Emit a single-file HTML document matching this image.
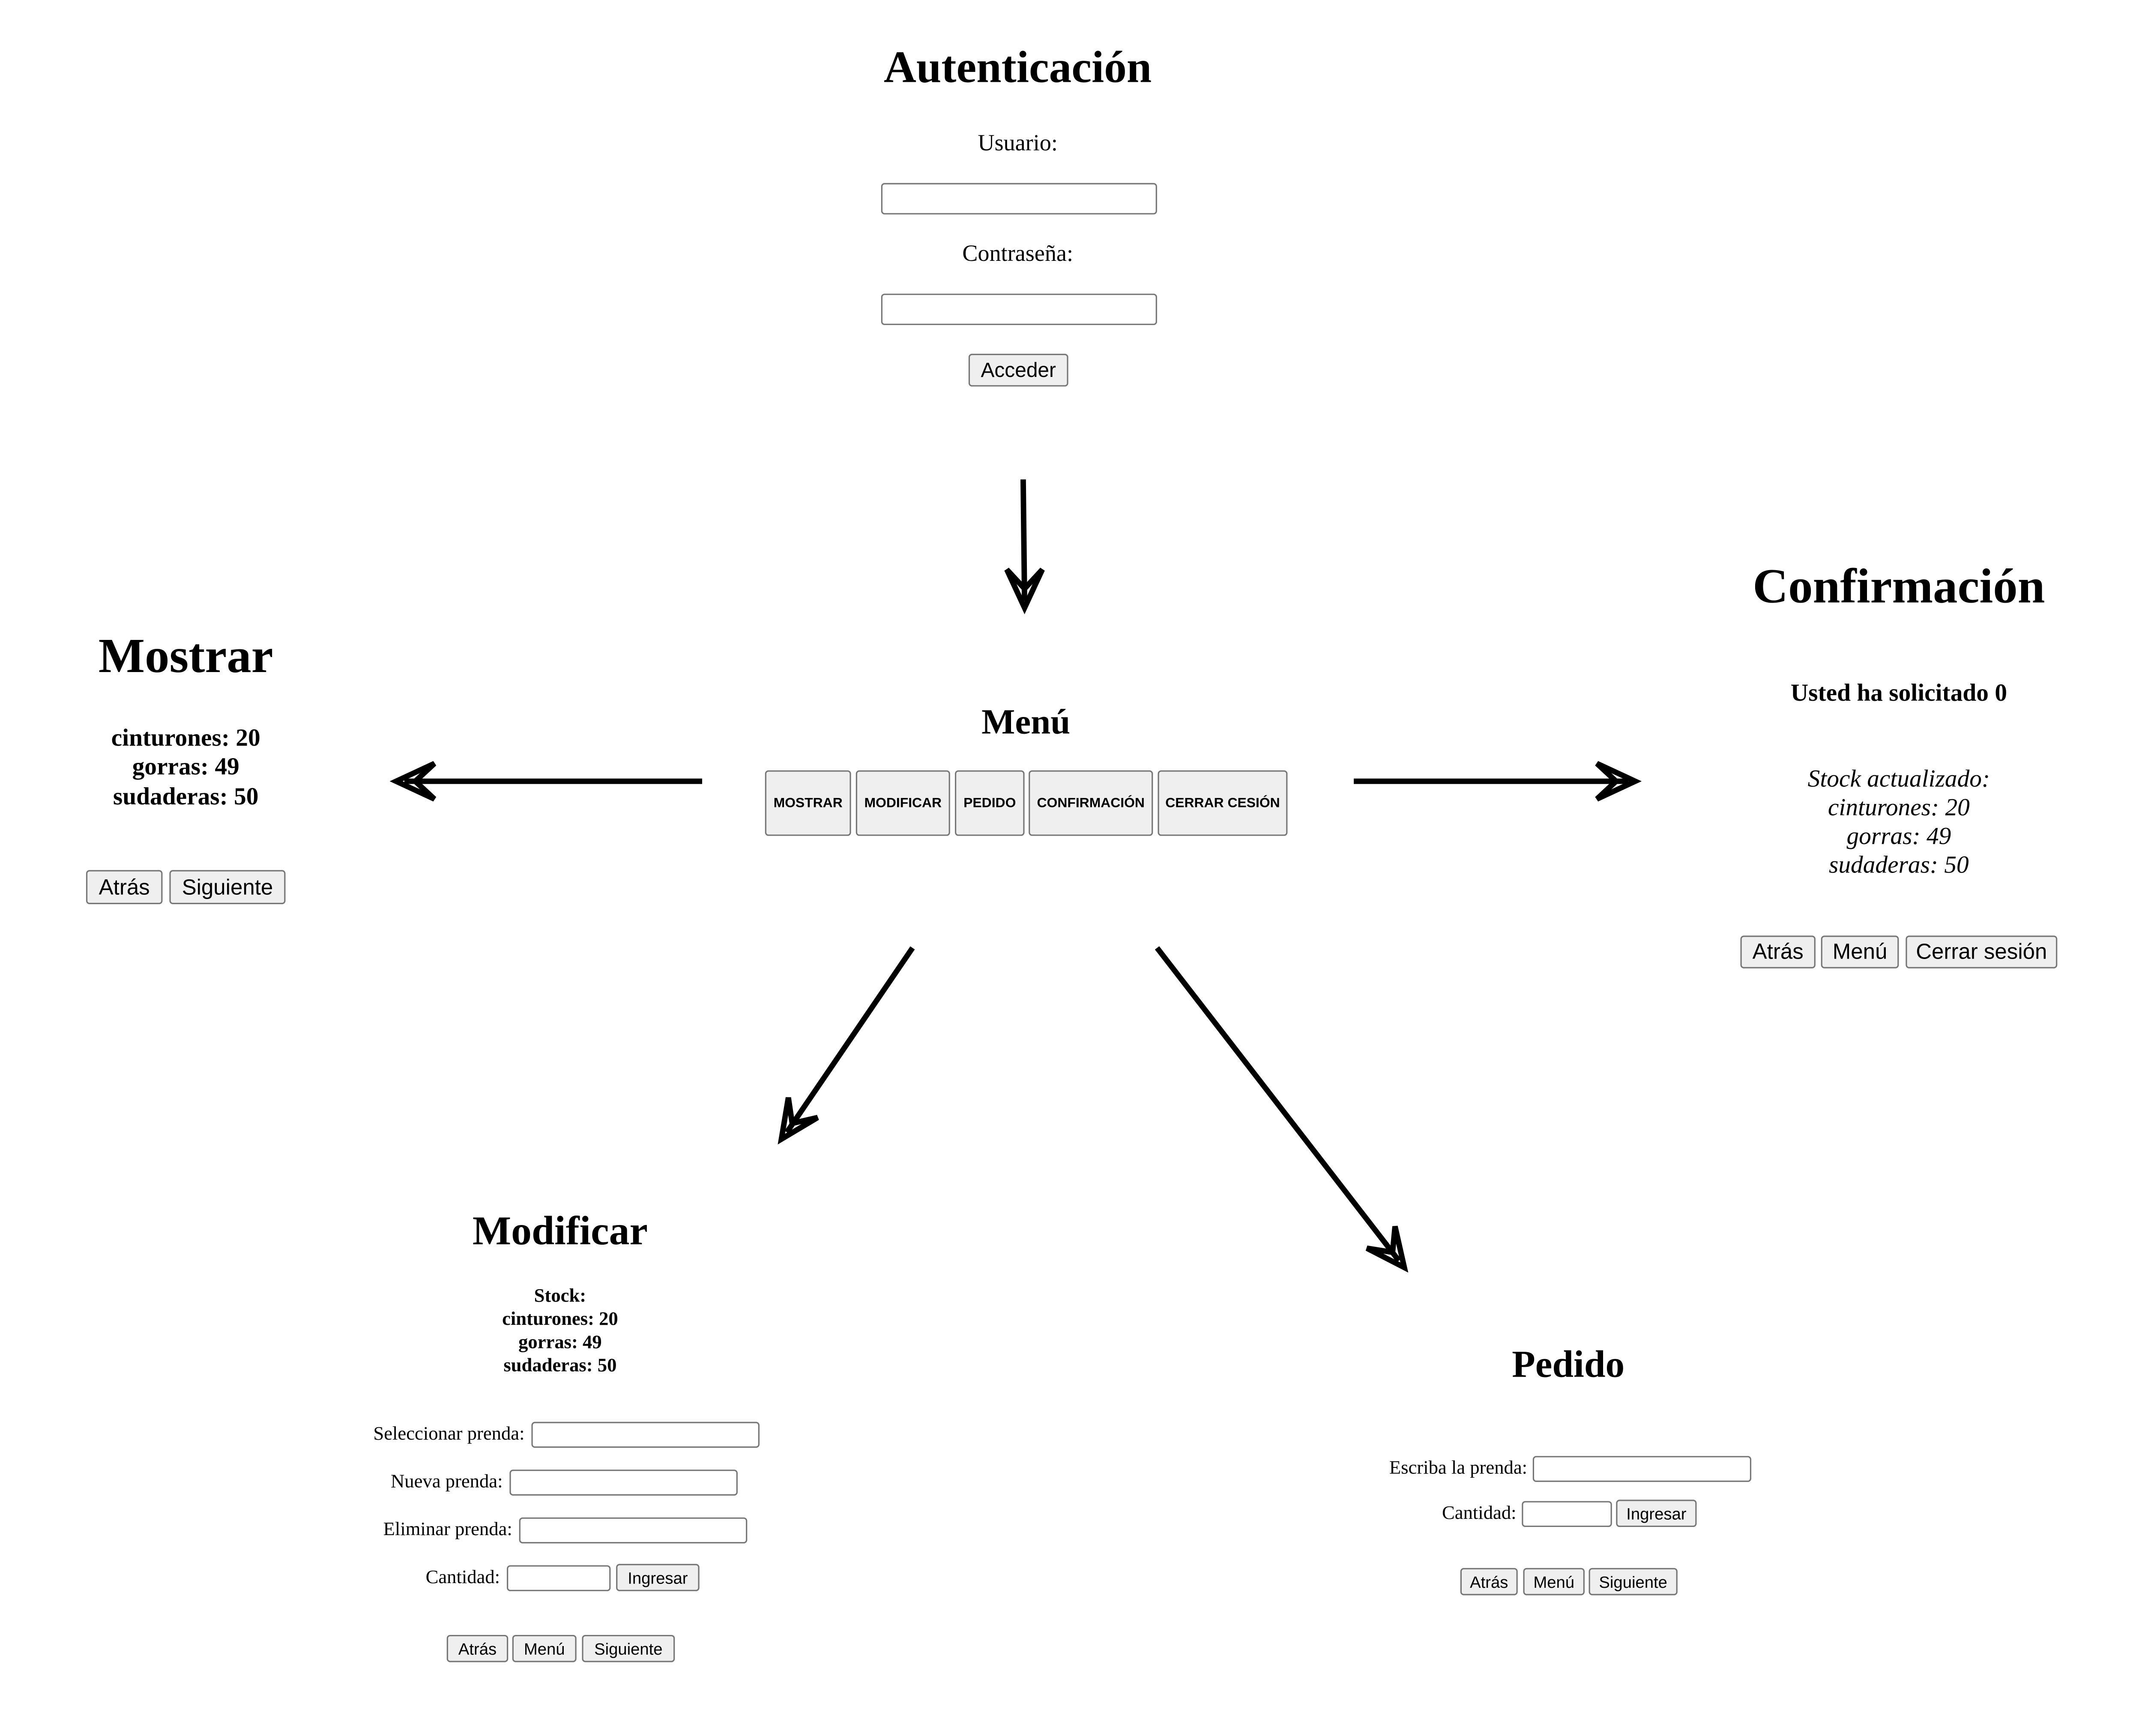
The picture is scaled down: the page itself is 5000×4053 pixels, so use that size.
<!DOCTYPE html>
<html><head><meta charset="utf-8"><style>
html,body{margin:0;padding:0;background:#fff;width:5000px;height:4053px;overflow:hidden}
svg{display:block}
.t{font-family:"Liberation Serif",serif;fill:#000}
.s{font-family:"Liberation Sans",sans-serif;fill:#000}
.b{font-weight:bold}
.in{fill:#fff;stroke:#767676;stroke-width:1}
.bt{fill:#efefef;stroke:#767676;stroke-width:1}
.ar{fill:none;stroke:#000;stroke-width:4;stroke-linejoin:miter}
</style></head><body>
<svg width="5000" height="4053" viewBox="0 0 1568 1271" preserveAspectRatio="xMinYMin meet" xmlns="http://www.w3.org/2000/svg">
<!-- Autenticación -->
<text class="t b" x="745" y="60" font-size="33" text-anchor="middle">Autenticación</text>
<text class="t" x="745" y="110" font-size="17" text-anchor="middle">Usuario:</text>
<rect class="in" x="645.5" y="134.5" width="201" height="22" rx="2"/>
<text class="t" x="745" y="191" font-size="17" text-anchor="middle">Contraseña:</text>
<rect class="in" x="645.5" y="215.5" width="201" height="22" rx="2"/>
<rect class="bt" x="709.5" y="259.5" width="72" height="23" rx="2"/>
<text class="s" x="745.5" y="276" font-size="15" text-anchor="middle">Acceder</text>

<!-- arrows -->
<line class="ar" x1="749" y1="351" x2="750" y2="440"/>
<path class="ar" d="M737,417 L750,445 L763,417 L750,431 Z"/>
<line class="ar" x1="514" y1="572" x2="296" y2="572"/>
<path class="ar" d="M318,559 L290,572 L318,585 L304,572 Z"/>
<line class="ar" x1="991" y1="572" x2="1192" y2="572"/>
<path class="ar" d="M1169,559 L1197,572 L1169,585 L1183,572 Z"/>
<line class="ar" x1="668" y1="694" x2="576" y2="829"/>
<path class="ar" d="M598.5,818.2 L572,834 L577.1,803.6 L579.9,822.5 Z"/>
<line class="ar" x1="847" y1="694" x2="1024" y2="923"/>
<path class="ar" d="M1000.6,913.9 L1028,928 L1021.2,897.9 L1019.4,916.9 Z"/>

<!-- Menú -->
<text class="t b" x="751" y="537" font-size="26" text-anchor="middle">Menú</text>
<g font-size="10">
<rect class="bt" x="560.5" y="564.5" width="62" height="47" rx="2"/>
<text class="s b" x="591.5" y="591" text-anchor="middle">MOSTRAR</text>
<rect class="bt" x="627" y="564.5" width="68" height="47" rx="2"/>
<text class="s b" x="661" y="591" text-anchor="middle">MODIFICAR</text>
<rect class="bt" x="699.5" y="564.5" width="50" height="47" rx="2"/>
<text class="s b" x="724.5" y="591" text-anchor="middle">PEDIDO</text>
<rect class="bt" x="753.5" y="564.5" width="90" height="47" rx="2"/>
<text class="s b" x="798.5" y="591" text-anchor="middle">CONFIRMACIÓN</text>
<rect class="bt" x="848" y="564.5" width="94" height="47" rx="2"/>
<text class="s b" x="895" y="591" text-anchor="middle">CERRAR CESIÓN</text>
</g>

<!-- Mostrar -->
<text class="t b" x="136" y="492" font-size="36" text-anchor="middle">Mostrar</text>
<text class="t b" x="136" y="546" font-size="18" text-anchor="middle">cinturones: 20</text>
<text class="t b" x="136" y="567" font-size="18" text-anchor="middle">gorras: 49</text>
<text class="t b" x="136" y="589" font-size="18" text-anchor="middle">sudaderas: 50</text>
<rect class="bt" x="63.5" y="637.5" width="55" height="24" rx="2"/>
<text class="s" x="91" y="655" font-size="16" text-anchor="middle">Atrás</text>
<rect class="bt" x="124.5" y="637.5" width="84" height="24" rx="2"/>
<text class="s" x="166.5" y="655" font-size="16" text-anchor="middle">Siguiente</text>

<!-- Confirmación -->
<text class="t b" x="1390" y="441" font-size="36" text-anchor="middle">Confirmación</text>
<text class="t b" x="1390" y="513" font-size="18" text-anchor="middle">Usted ha solicitado 0</text>
<text class="t" x="1390" y="576" font-size="18" font-style="italic" text-anchor="middle">Stock actualizado:</text>
<text class="t" x="1390" y="597" font-size="18" font-style="italic" text-anchor="middle">cinturones: 20</text>
<text class="t" x="1390" y="618" font-size="18" font-style="italic" text-anchor="middle">gorras: 49</text>
<text class="t" x="1390" y="639" font-size="18" font-style="italic" text-anchor="middle">sudaderas: 50</text>
<rect class="bt" x="1274.5" y="685.5" width="54" height="23" rx="2"/>
<text class="s" x="1301.5" y="702" font-size="16" text-anchor="middle">Atrás</text>
<rect class="bt" x="1333.5" y="685.5" width="56" height="23" rx="2"/>
<text class="s" x="1361.5" y="702" font-size="16" text-anchor="middle">Menú</text>
<rect class="bt" x="1395.5" y="685.5" width="110" height="23" rx="2"/>
<text class="s" x="1450.5" y="702" font-size="16" text-anchor="middle">Cerrar sesión</text>

<!-- Modificar -->
<text class="t b" x="410" y="911" font-size="30" text-anchor="middle">Modificar</text>
<text class="t b" x="410" y="953" font-size="14" text-anchor="middle">Stock:</text>
<text class="t b" x="410" y="970" font-size="14" text-anchor="middle">cinturones: 20</text>
<text class="t b" x="410" y="987" font-size="14" text-anchor="middle">gorras: 49</text>
<text class="t b" x="410" y="1004" font-size="14" text-anchor="middle">sudaderas: 50</text>
<text class="t" x="384" y="1054" font-size="14" text-anchor="end">Seleccionar prenda:</text>
<rect class="in" x="389.5" y="1041.5" width="166" height="18" rx="2"/>
<text class="t" x="368" y="1089" font-size="14" text-anchor="end">Nueva prenda:</text>
<rect class="in" x="373.5" y="1076.5" width="166" height="18" rx="2"/>
<text class="t" x="375" y="1124" font-size="14" text-anchor="end">Eliminar prenda:</text>
<rect class="in" x="380.5" y="1111.5" width="166" height="18" rx="2"/>
<text class="t" x="366" y="1159" font-size="14" text-anchor="end">Cantidad:</text>
<rect class="in" x="371.5" y="1146.5" width="75" height="18" rx="2"/>
<rect class="bt" x="451.5" y="1145.5" width="60" height="19" rx="2"/>
<text class="s" x="481.5" y="1159.5" font-size="12" text-anchor="middle">Ingresar</text>
<rect class="bt" x="327.5" y="1197.5" width="44" height="19" rx="2"/>
<text class="s" x="349.5" y="1211.5" font-size="12" text-anchor="middle">Atrás</text>
<rect class="bt" x="375.5" y="1197.5" width="46" height="19" rx="2"/>
<text class="s" x="398.5" y="1211.5" font-size="12" text-anchor="middle">Menú</text>
<rect class="bt" x="426.5" y="1197.5" width="67" height="19" rx="2"/>
<text class="s" x="460" y="1211.5" font-size="12" text-anchor="middle">Siguiente</text>

<!-- Pedido -->
<text class="t b" x="1148" y="1008" font-size="28" text-anchor="middle">Pedido</text>
<text class="t" x="1118" y="1079" font-size="14" text-anchor="end">Escriba la prenda:</text>
<rect class="in" x="1122.5" y="1066.5" width="159" height="18" rx="2"/>
<text class="t" x="1110" y="1112" font-size="14" text-anchor="end">Cantidad:</text>
<rect class="in" x="1114.5" y="1099.5" width="65" height="18" rx="2"/>
<rect class="bt" x="1183.5" y="1098.5" width="58" height="19" rx="2"/>
<text class="s" x="1212.5" y="1112.5" font-size="12" text-anchor="middle">Ingresar</text>
<rect class="bt" x="1069.5" y="1148.5" width="41" height="19" rx="2"/>
<text class="s" x="1090" y="1162.5" font-size="12" text-anchor="middle">Atrás</text>
<rect class="bt" x="1115.5" y="1148.5" width="44" height="19" rx="2"/>
<text class="s" x="1137.5" y="1162.5" font-size="12" text-anchor="middle">Menú</text>
<rect class="bt" x="1163.5" y="1148.5" width="64" height="19" rx="2"/>
<text class="s" x="1195.5" y="1162.5" font-size="12" text-anchor="middle">Siguiente</text>
</svg>
</body></html>
